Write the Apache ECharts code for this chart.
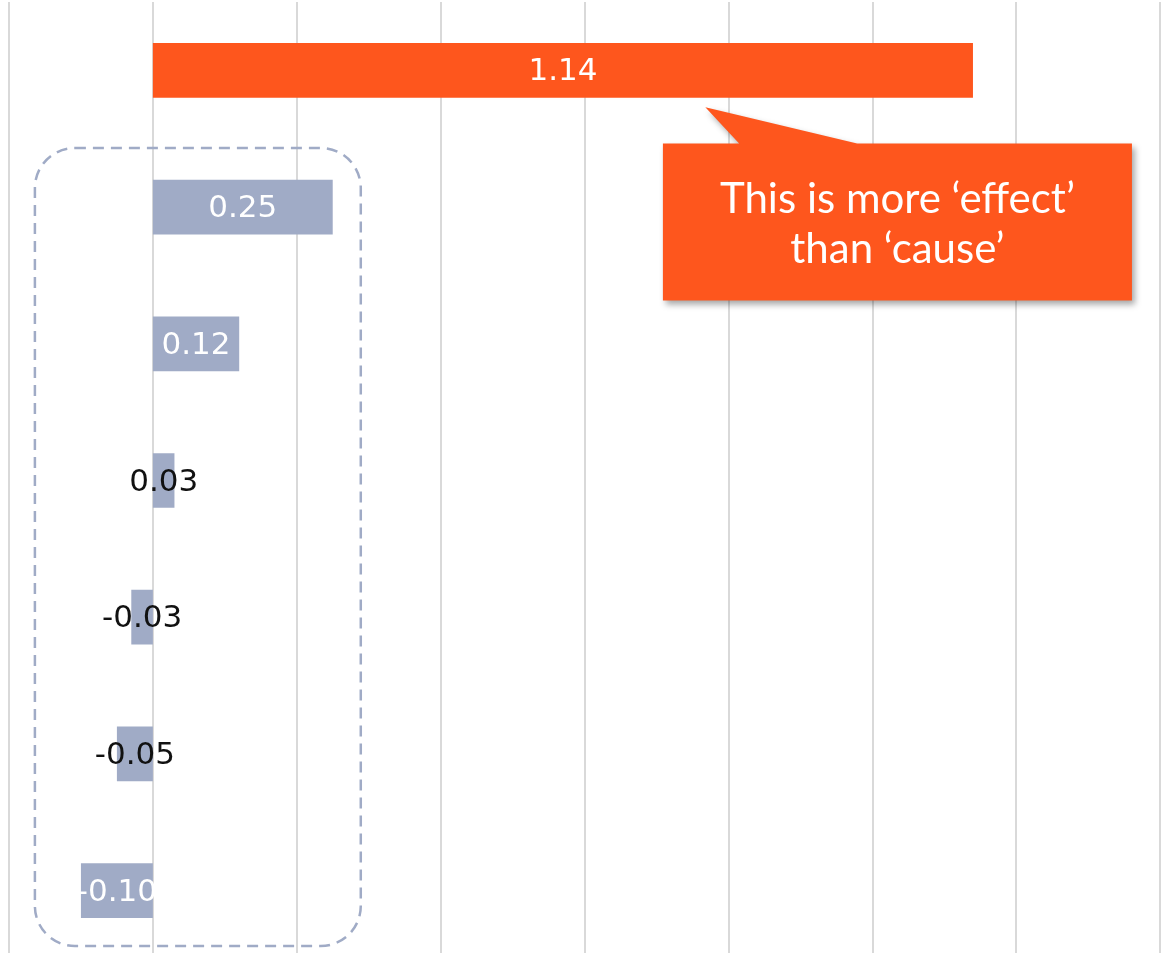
<!DOCTYPE html>
<html>
<head>
<meta charset="utf-8">
<script src="https://cdn.jsdelivr.net/npm/echarts@6/dist/echarts.min.js"></script>
<style>
  html, body { margin: 0; padding: 0; background: #ffffff; overflow: hidden; }
  /* the plot runs a few pixels past the bottom edge of the window */
  #chart { width: 1170px; height: 960px; }
</style>
</head>
<body>
<div id="chart"></div>
<script>
// Categories, top to bottom
const categories = ['Factor 1', 'Factor 2', 'Factor 3', 'Factor 4', 'Factor 5', 'Factor 6', 'Factor 7'];
// Coefficient per category
const values = [1.14, 0.25, 0.12, 0.03, -0.03, -0.05, -0.10];
// Value axis range and step
const axisMin = -0.2;
const axisMax = 1.4;
const axisStep = 0.2;
// Callout text
const calloutLines = ['This is more \u2018effect\u2019', 'than \u2018cause\u2019'];

const ORANGE = '#FE561D';
const SLATE = '#A0ABC6';
const NUM_FONT = '"DejaVu Sans", "Noto Sans", sans-serif';
const TEXT_FONT = 'Lato, "Noto Sans", sans-serif';

const chart = echarts.init(document.getElementById('chart'), null, { renderer: 'canvas' });

const barData = values.map((v, i) => ({
  value: v,
  itemStyle: { color: i === 0 ? ORANGE : SLATE },
  label: { color: Math.abs(v) >= 0.1 ? '#ffffff' : '#111111' }
}));

chart.setOption({
  animation: false,
  backgroundColor: '#ffffff',
  grid: { left: 9, right: 10, top: 2, bottom: 1, containLabel: false },
  xAxis: {
    type: 'value',
    min: axisMin,
    max: axisMax,
    interval: axisStep,
    axisLine: { show: false },
    axisTick: { show: false },
    axisLabel: { show: false },
    splitLine: { show: true, lineStyle: { color: '#D9D9D9', width: 2 } }
  },
  yAxis: {
    type: 'category',
    data: categories,
    inverse: true,
    axisLine: { show: false },
    axisTick: { show: false },
    axisLabel: { show: false },
    splitLine: { show: false }
  },
  series: [{
    type: 'bar',
    data: barData,
    barCategoryGap: '60%',
    label: {
      show: true,
      position: 'inside',
      offset: [0, 2],
      fontFamily: NUM_FONT,
      fontSize: 31,
      formatter: p => p.value.toFixed(2)
    }
  }]
});

// Annotations placed from the axis scales
const px = (x, i) => chart.convertToPixel({ gridIndex: 0 }, [x, categories[i]]);
const band = px(0, 1)[1] - px(0, 0)[1];

// Dashed group outline around the smaller coefficients
const boxL = px(-0.164, 1)[0];
const boxR = px(0.289, 1)[0];
const boxT = px(0, 1)[1] - band * 0.432;
const boxB = px(0, categories.length - 1)[1] + band * 0.405;

// Callout box and its pointer toward the top bar
const firstBar = px(0, 0);
const calL = px(0.709, 0)[0];
const calR = px(1.361, 0)[0];
const calT = firstBar[1] + band * 0.535;
const calB = calT + 157;
const tip = [px(0.768, 0)[0], firstBar[1] + 37];
const baseA = px(0.815, 0)[0];
const baseB = px(0.979, 0)[0];

chart.setOption({
  graphic: [
    {
      type: 'rect',
      shape: { x: boxL, y: boxT, width: boxR - boxL, height: boxB - boxT, r: 40 },
      style: { fill: null, stroke: SLATE, lineWidth: 2.5, lineDash: [11, 7] },
      z: 100
    },
    {
      type: 'polygon',
      shape: {
        points: [
          [calL, calT], [baseA, calT], tip, [baseB, calT],
          [calR, calT], [calR, calB], [calL, calB]
        ]
      },
      style: {
        fill: ORANGE,
        shadowColor: 'rgba(0,0,0,0.35)',
        shadowBlur: 6,
        shadowOffsetX: 3,
        shadowOffsetY: 4
      },
      z: 100
    },
    {
      type: 'text',
      x: (calL + calR) / 2,
      y: (calT + calB) / 2 + 2,
      style: {
        text: calloutLines.join('\n'),
        fill: '#ffffff',
        font: '42px ' + TEXT_FONT,
        lineHeight: 50,
        align: 'center',
        verticalAlign: 'middle'
      },
      z: 101
    }
  ]
});
</script>
</body>
</html>
